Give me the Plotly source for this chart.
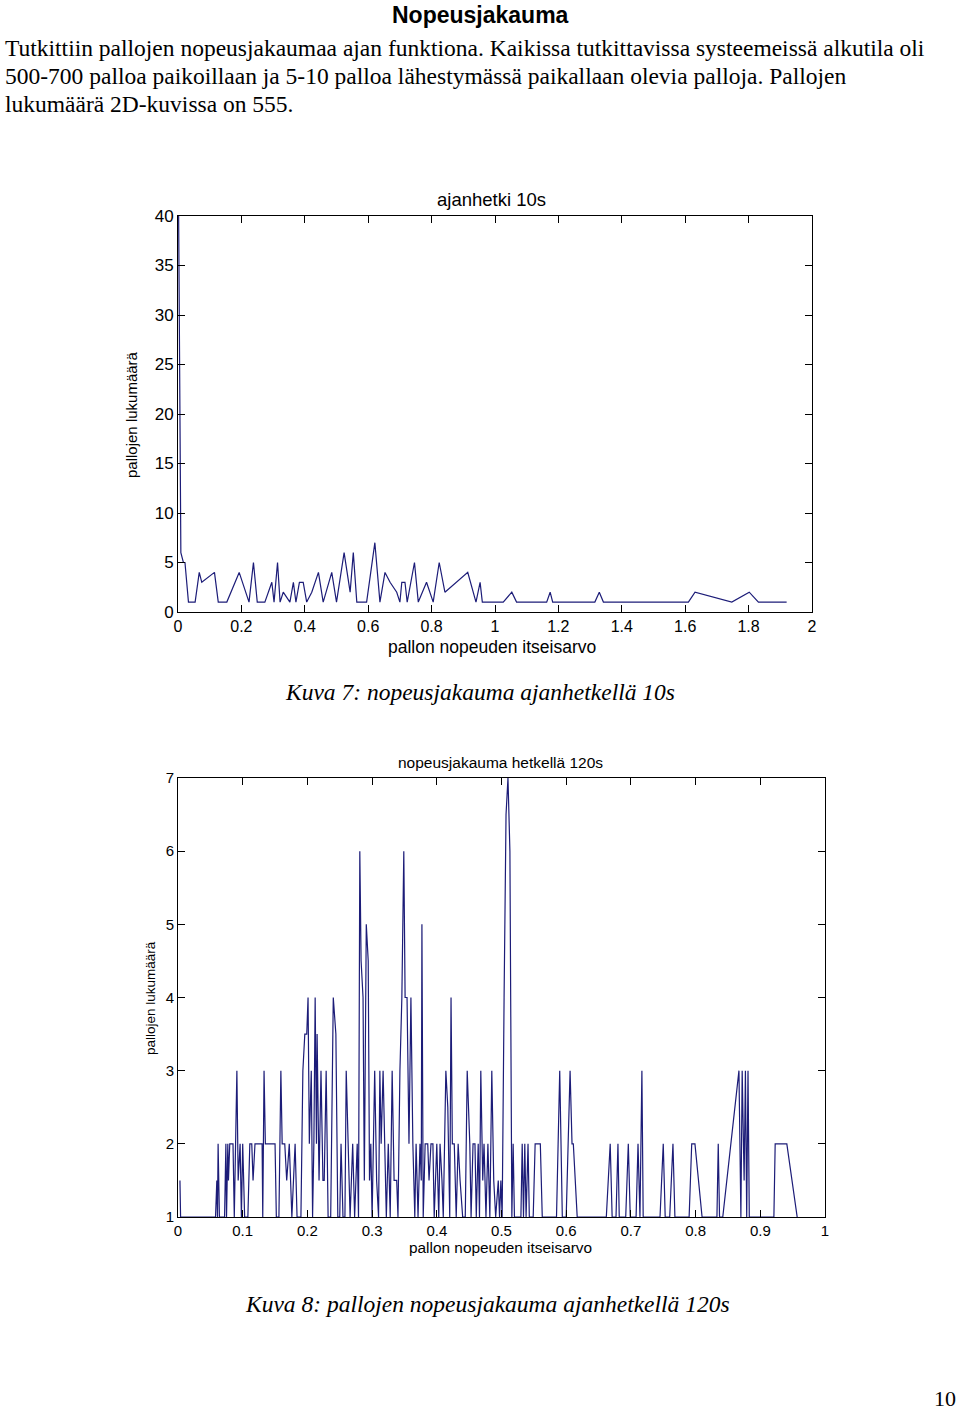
import plotly.graph_objects as go

W, H = 960, 1413

# kuva 7: ajanhetki 10s
speed_10s = [0.002, 0.004, 0.006, 0.009, 0.017, 0.022, 0.033, 0.054, 0.067, 0.075,
             0.115, 0.127, 0.154, 0.193, 0.224, 0.238, 0.250, 0.274, 0.296, 0.303,
             0.314, 0.322, 0.332, 0.353, 0.364, 0.372, 0.383, 0.395, 0.406, 0.422,
             0.443, 0.458, 0.485, 0.500, 0.524, 0.543, 0.553, 0.564, 0.595, 0.621,
             0.637, 0.653, 0.669, 0.690, 0.700, 0.706, 0.716, 0.723, 0.746, 0.758,
             0.784, 0.805, 0.824, 0.842, 0.914, 0.940, 0.953, 0.960, 1.026, 1.053,
             1.068, 1.163, 1.174, 1.182, 1.315, 1.329, 1.342, 1.610, 1.631, 1.747,
             1.802, 1.831, 1.920]
count_10s = [40, 31, 15, 6, 5, 5, 1, 1, 4, 3,
             4, 1, 1, 4, 1, 5, 1, 1, 3, 1,
             5, 1, 2, 1, 3, 1, 3, 3, 1, 2,
             4, 1, 4, 1, 6, 2, 6, 1, 1, 7,
             1, 4, 3, 2, 1, 3, 3, 1, 5, 1,
             3, 1, 5, 2, 4, 1, 3, 1, 1, 2,
             1, 1, 2, 1, 1, 2, 1, 1, 2, 1,
             2, 1, 1]

# kuva 8: hetki 120s
speed_120s = [0.003, 0.004, 0.058, 0.060, 0.061, 0.062, 0.064, 0.072, 0.074, 0.075,
              0.077, 0.078, 0.080, 0.085, 0.087, 0.091, 0.093, 0.096, 0.098, 0.100,
              0.103, 0.108, 0.111, 0.114, 0.116, 0.119, 0.130, 0.131, 0.133, 0.135,
              0.139, 0.150, 0.152, 0.156, 0.159, 0.161, 0.165, 0.168, 0.172, 0.176,
              0.181, 0.184, 0.190, 0.193, 0.196, 0.199, 0.201, 0.203, 0.206, 0.208,
              0.210, 0.212, 0.214, 0.215, 0.218, 0.221, 0.224, 0.226, 0.229, 0.232,
              0.236, 0.240, 0.244, 0.247, 0.250, 0.252, 0.255, 0.258, 0.260, 0.263,
              0.266, 0.270, 0.273, 0.277, 0.279, 0.281, 0.283, 0.286, 0.288, 0.291,
              0.294, 0.296, 0.298, 0.300, 0.304, 0.307, 0.310, 0.312, 0.314, 0.317,
              0.320, 0.322, 0.325, 0.328, 0.331, 0.334, 0.338, 0.340, 0.343, 0.346,
              0.349, 0.351, 0.354, 0.357, 0.360, 0.363, 0.366, 0.368, 0.371, 0.374,
              0.376, 0.377, 0.379, 0.382, 0.386, 0.388, 0.391, 0.394, 0.396, 0.400,
              0.403, 0.405, 0.408, 0.410, 0.414, 0.417, 0.420, 0.422, 0.424, 0.427,
              0.430, 0.433, 0.436, 0.440, 0.444, 0.447, 0.451, 0.453, 0.456, 0.459,
              0.461, 0.464, 0.466, 0.468, 0.471, 0.473, 0.476, 0.479, 0.482, 0.485,
              0.488, 0.491, 0.495, 0.497, 0.499, 0.501, 0.504, 0.507, 0.510, 0.513,
              0.516, 0.518, 0.520, 0.530, 0.532, 0.534, 0.536, 0.538, 0.541, 0.543,
              0.549, 0.552, 0.560, 0.563, 0.585, 0.590, 0.594, 0.600, 0.603, 0.606,
              0.609, 0.611, 0.617, 0.662, 0.668, 0.671, 0.677, 0.680, 0.682, 0.692,
              0.696, 0.699, 0.708, 0.711, 0.714, 0.717, 0.719, 0.745, 0.750, 0.753,
              0.760, 0.765, 0.768, 0.790, 0.794, 0.799, 0.810, 0.833, 0.835, 0.837,
              0.842, 0.867, 0.870, 0.872, 0.875, 0.877, 0.879, 0.881, 0.883, 0.921,
              0.923, 0.941, 0.957]
count_120s = [1.5, 1, 1, 1.5, 1, 2, 1, 1, 2, 1,
              2, 1.5, 2, 2, 1, 3, 1.5, 2, 1, 2,
              1, 1, 2, 2, 1.5, 2, 2, 1, 3, 2,
              2, 2, 1, 1, 3, 2, 2, 1.5, 2, 1,
              2, 1, 1, 3, 3.5, 3.5, 4, 2, 3, 1,
              2, 4, 2, 3.5, 1.5, 3, 1.5, 1.5, 3, 1,
              1, 4, 3.5, 1, 1, 2, 1, 1, 3, 2,
              1, 2, 1, 2, 1, 6, 4.5, 4, 1.5, 5,
              4.5, 1.5, 2, 1, 3, 1.5, 1, 3, 2, 3,
              1.5, 1, 2, 1, 3, 1.5, 1.5, 1, 3, 4,
              6, 4, 4, 2, 4, 2, 1, 2, 1, 2,
              1.5, 5, 1, 2, 2, 1.5, 2, 2, 1, 2,
              1, 2, 1.5, 1, 3, 2.5, 1, 4, 2, 2,
              1, 2, 1.5, 1, 1, 3, 2, 1, 2, 2,
              1, 2, 1, 3, 1.5, 2, 1, 2, 1, 3,
              1.5, 1, 1.5, 1, 1.5, 1, 4, 6.5, 7, 6,
              1, 2, 1, 1, 2, 1, 2, 1, 2, 1,
              1, 2, 2, 1, 1, 3, 1, 1, 2, 3,
              2, 2, 1, 1, 2, 1, 1, 2, 1, 1,
              2, 1, 1, 2, 1, 3, 1, 1, 2, 1,
              1, 2, 1, 1, 2, 2, 1, 1, 2, 1,
              1, 3, 1, 3, 1.5, 3, 1, 3, 1, 1,
              2, 2, 1]

x_ticks_10s = [0, 0.2, 0.4, 0.6, 0.8, 1, 1.2, 1.4, 1.6, 1.8, 2]
y_ticks_10s = [0, 5, 10, 15, 20, 25, 30, 35, 40]
x_ticks_120s = [0, 0.1, 0.2, 0.3, 0.4, 0.5, 0.6, 0.7, 0.8, 0.9, 1]
y_ticks_120s = [1, 2, 3, 4, 5, 6, 7]

line_col = "#1c1c78"
serif = "Liberation Serif"
sans = "Liberation Sans"


def px(x):
    return x / W


def py(y):
    return 1 - y / H


fig = go.Figure()
fig.add_trace(go.Scatter(x=speed_10s, y=count_10s, mode="lines",
                         line=dict(color=line_col, width=1.2), xaxis="x", yaxis="y"))
fig.add_trace(go.Scatter(x=speed_120s, y=count_120s, mode="lines",
                         line=dict(color=line_col, width=1.2), xaxis="x2", yaxis="y2"))

ax = dict(showline=True, linecolor="black", linewidth=1, mirror="ticks",
          ticks="inside", ticklen=7, tickcolor="black", showgrid=False,
          zeroline=False)
big = dict(family=sans, size=17, color="black")
mid = dict(family=sans, size=16, color="black")
small = dict(family=sans, size=15, color="black")

fig.update_layout(
    width=W, height=H, margin=dict(l=0, r=0, t=0, b=0, autoexpand=False),
    paper_bgcolor="white", plot_bgcolor="white", showlegend=False,
    xaxis=dict(ax, domain=[px(178), px(812)], range=[0, 2], tickvals=x_ticks_10s,
               anchor="y", tickfont=mid),
    yaxis=dict(ax, domain=[py(612), py(216)], range=[0, 40], tickvals=y_ticks_10s,
               anchor="x", tickfont=big),
    xaxis2=dict(ax, domain=[px(178), px(825)], range=[0, 1], tickvals=x_ticks_120s,
                anchor="y2", tickfont=small),
    yaxis2=dict(ax, domain=[py(1217), py(778)], range=[1, 7], tickvals=y_ticks_120s,
                anchor="x2", tickfont=small),
)


def note(text, x, y, font, size, xanchor="center", yanchor="middle", angle=0,
         italic=False, bold=False):
    if bold:
        text = "<b>" + text + "</b>"
    if italic:
        text = "<i>" + text + "</i>"
    fig.add_annotation(text=text, x=px(x), y=py(y), xref="paper", yref="paper",
                       xanchor=xanchor, yanchor=yanchor, showarrow=False,
                       textangle=angle, font=dict(family=font, size=size, color="black"))


note("Nopeusjakauma", 480, 0, sans, 23, yanchor="top", bold=True)
note("Tutkittiin pallojen nopeusjakaumaa ajan funktiona. Kaikissa tutkittavissa systeemeissä alkutila oli",
     3, 48, serif, 23.5, xanchor="left")
note("500-700 palloa paikoillaan ja 5-10 palloa lähestymässä paikallaan olevia palloja. Pallojen",
     3, 76, serif, 23.5, xanchor="left")
note("lukumäärä 2D-kuvissa on 555.", 3, 104, serif, 23.5, xanchor="left")

note("ajanhetki 10s", 492, 199, sans, 18.5)
note("pallon nopeuden itseisarvo", 492, 647, sans, 17.5)
note("pallojen lukumäärä", 131, 415, sans, 15, angle=-90)
note("Kuva 7: nopeusjakauma ajanhetkellä 10s", 480, 692, serif, 23.5, italic=True)

note("nopeusjakauma hetkellä 120s", 500, 762, sans, 15.5)
note("pallon nopeuden itseisarvo", 500, 1247, sans, 15.4)
note("pallojen lukumäärä", 150, 998, sans, 13.5, angle=-90)
note("Kuva 8: pallojen nopeusjakauma ajanhetkellä 120s", 487, 1304, serif, 23.5, italic=True)

note("10", 958, 1413, serif, 22, xanchor="right", yanchor="bottom")

fig.write_html("out.html", config={"displayModeBar": False},
               post_script="document.body.style.margin='0px';"
                           "document.body.style.overflow='hidden';")
